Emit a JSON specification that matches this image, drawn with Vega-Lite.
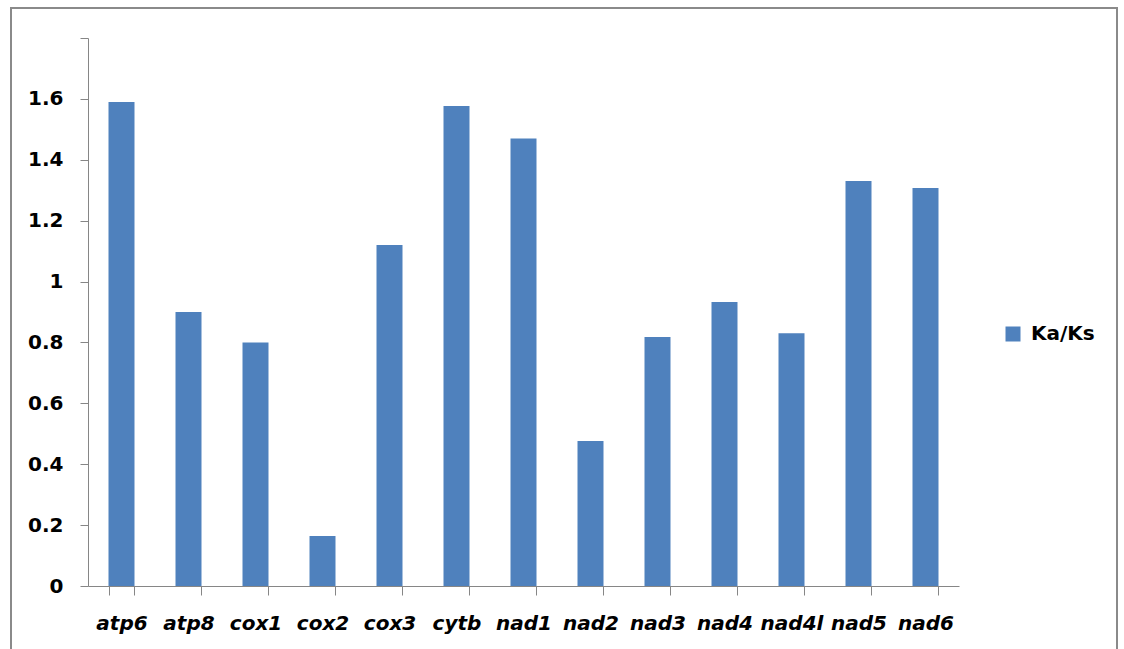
{
  "$schema": "https://vega.github.io/schema/vega-lite/v6.json",
  "width": 1106,
  "height": 644,
  "autosize": {"type": "none"},
  "padding": {"left": 11, "top": 8, "right": 7, "bottom": 0},
  "background": "white",
  "config": {
    "view": {"stroke": "#8a8a8a", "strokeWidth": 2, "fill": "white"},
    "font": "DejaVu Sans"
  },
  "data": {
    "values": [
      {"gene": "atp6", "value": 1.59, "series": "Ka/Ks"},
      {"gene": "atp8", "value": 0.90, "series": "Ka/Ks"},
      {"gene": "cox1", "value": 0.80, "series": "Ka/Ks"},
      {"gene": "cox2", "value": 0.164, "series": "Ka/Ks"},
      {"gene": "cox3", "value": 1.12, "series": "Ka/Ks"},
      {"gene": "cytb", "value": 1.577, "series": "Ka/Ks"},
      {"gene": "nad1", "value": 1.47, "series": "Ka/Ks"},
      {"gene": "nad2", "value": 0.476, "series": "Ka/Ks"},
      {"gene": "nad3", "value": 0.818, "series": "Ka/Ks"},
      {"gene": "nad4", "value": 0.933, "series": "Ka/Ks"},
      {"gene": "nad4l", "value": 0.83, "series": "Ka/Ks"},
      {"gene": "nad5", "value": 1.33, "series": "Ka/Ks"},
      {"gene": "nad6", "value": 1.307, "series": "Ka/Ks"}
    ]
  },
  "mark": {"type": "bar"},
  "encoding": {
    "x": {
      "field": "gene",
      "type": "nominal",
      "sort": null,
      "scale": {"range": [77, 948], "paddingInner": 0.612, "paddingOuter": 0.306},
      "axis": {
        "title": null,
        "orient": "bottom",
        "offset": -66,
        "labelAngle": 0,
        "labelFont": "DejaVu Sans",
        "labelFontSize": 20,
        "labelFontWeight": "bold",
        "labelFontStyle": "oblique",
        "labelColor": "#000000",
        "labelBaseline": "alphabetic",
        "labelPadding": 34,
        "tickBand": "extent",
        "tickSize": 9,
        "tickColor": "#868686",
        "domainColor": "#868686",
        "domainWidth": 1,
        "tickWidth": 1,
        "grid": false
      }
    },
    "y": {
      "field": "value",
      "type": "quantitative",
      "scale": {"domain": [0, 1.8], "range": [578, 30], "nice": false, "zero": true},
      "axis": {
        "title": null,
        "orient": "left",
        "offset": -77,
        "values": [0, 0.2, 0.4, 0.6, 0.8, 1, 1.2, 1.4, 1.6, 1.8],
        "labelExpr": "datum.value > 1.7 ? '' : format(datum.value, '~g')",
        "labelFont": "DejaVu Sans",
        "labelFontSize": 20,
        "labelFontWeight": "bold",
        "labelColor": "#000000",
        "labelPadding": 17,
        "tickSize": 8,
        "tickColor": "#868686",
        "domainColor": "#868686",
        "grid": false
      }
    },
    "color": {
      "field": "series",
      "type": "nominal",
      "scale": {"range": ["#4F81BD"]},
      "legend": {
        "title": null,
        "orient": "none",
        "legendX": 992,
        "legendY": 316,
        "symbolType": "square",
        "symbolSize": 225,
        "symbolStrokeWidth": 0,
        "labelFont": "DejaVu Sans",
        "labelFontSize": 20,
        "labelFontWeight": "bold",
        "labelColor": "#000000",
        "labelOffset": 8
      }
    }
  }
}
